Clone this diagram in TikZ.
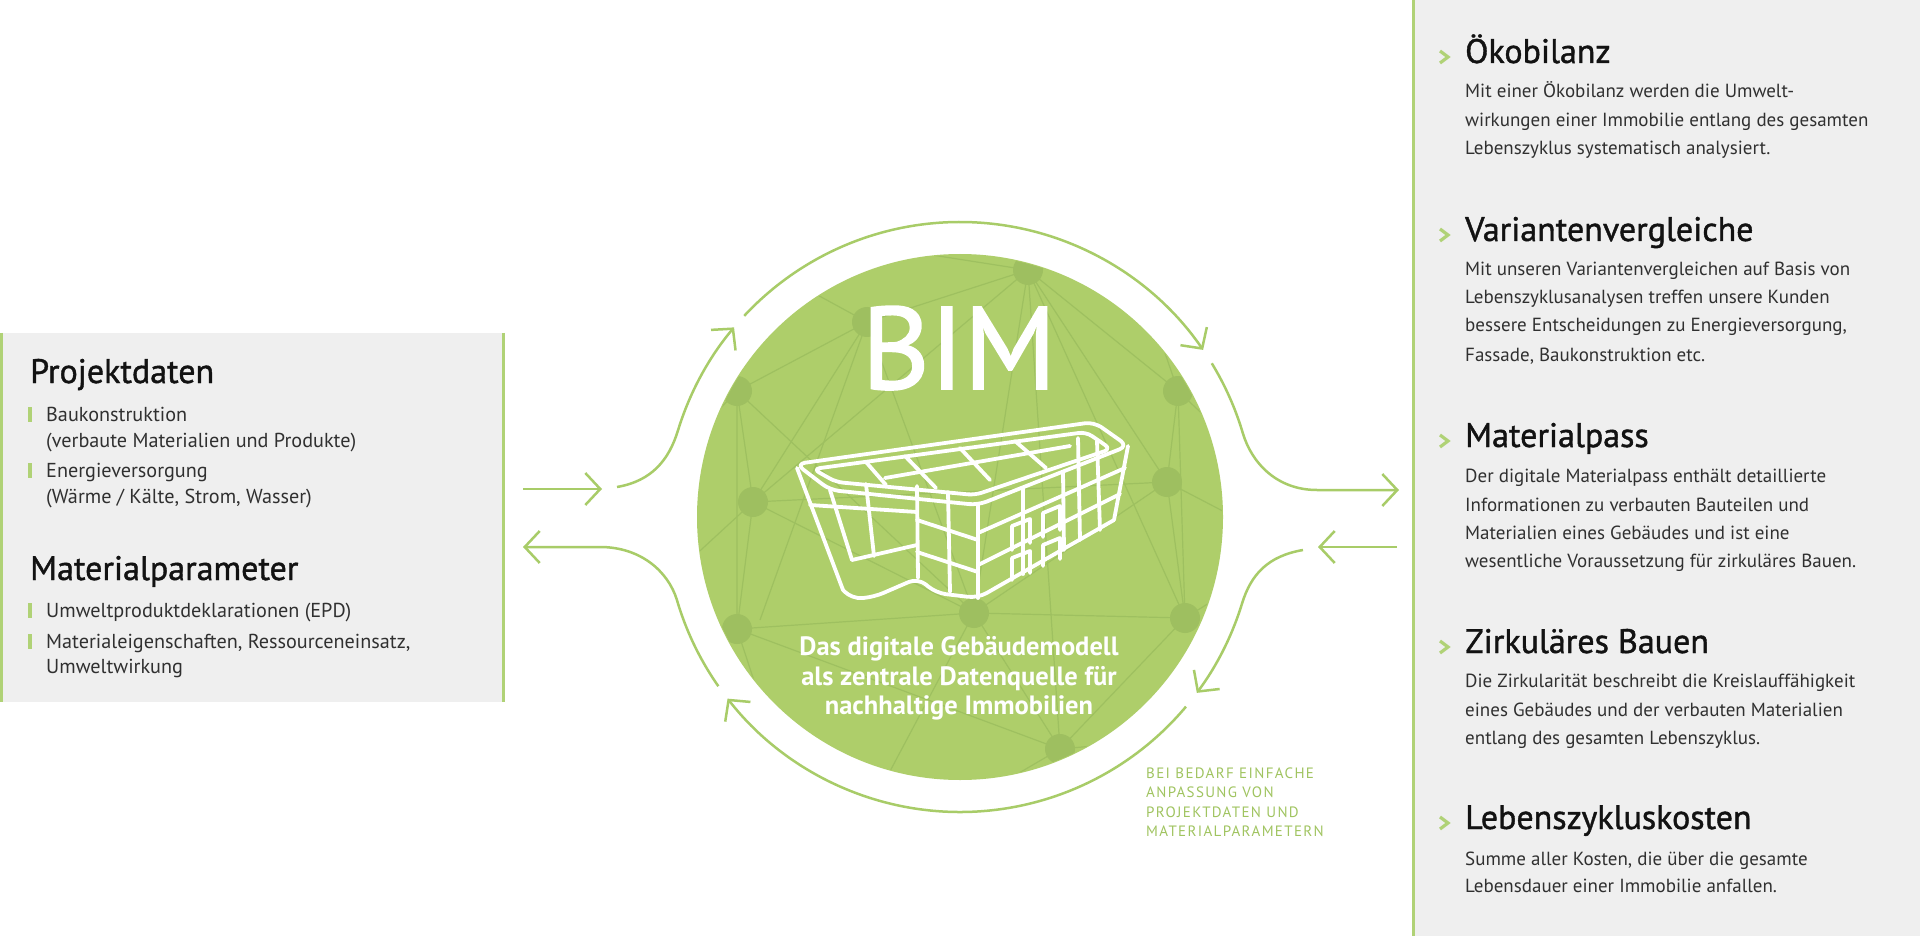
\documentclass[tikz,border=0pt]{standalone}
\usepackage{fontspec}
\setmainfont{PT Sans}
\newfontfamily\headfont[FakeBold=1.2]{PT Sans}
\newfontfamily\bimfont[FakeBold=1.5]{PT Sans}
\usetikzlibrary{arrows.meta,calc}
\definecolor{bimgreen}{RGB}{174,206,106}
\definecolor{linegreen}{RGB}{168,204,104}
\definecolor{netgreen}{RGB}{158,192,96}
\definecolor{dotgreen}{RGB}{158,191,96}
\definecolor{panelgrey}{RGB}{239,239,239}
\definecolor{bordergreen}{RGB}{176,210,118}
\definecolor{headtxt}{RGB}{18,18,18}
\definecolor{bodytxt}{RGB}{48,48,48}
\definecolor{labgreen}{RGB}{160,196,96}
\begin{document}
\begin{tikzpicture}[x=1pt,y=-1pt,
  head/.style={font=\headfont\fontsize{34}{38}\selectfont, text=headtxt, anchor=base west, inner sep=0pt},
  body/.style={font=\fontsize{19}{26}\selectfont, text=bodytxt, anchor=base west, inner sep=0pt},
  lbody/.style={font=\fontsize{20.2}{26}\selectfont, text=bodytxt, anchor=base west, inner sep=0pt},
  sub/.style={font=\bfseries\fontsize{26.5}{30}\selectfont, text=white, anchor=base, inner sep=0pt},
  lab/.style={font=\addfontfeatures{LetterSpace=9}\fontsize{15}{19}\selectfont, text=labgreen, anchor=base west, inner sep=0pt},
  arr/.style={draw=linegreen, line width=2.5pt, -{Straight Barb[length=15pt,width=32pt]}},
  chev/.style={draw=bordergreen, line width=3.2pt},
  net/.style={draw=netgreen, line width=1.2pt},
  bld/.style={draw=white, line width=3.8pt, line join=round, line cap=round, rounded corners=5pt}
]
\useasboundingbox (0,0) rectangle (1920,941);
\fill[white] (0,0) rectangle (1920,941);

% ---------- left panel ----------
\fill[panelgrey] (0,333) rectangle (505,702);
\draw[bordergreen, line width=3pt] (1.5,333) -- (1.5,702);
\draw[bordergreen, line width=3pt] (503.5,333) -- (503.5,702);

\node[head] (pd) at (30,383) {Projektdaten};
\fill[bordergreen] (28,407) rectangle (32,422);
\node[lbody] (pd1) at (46,421) {Baukonstruktion};
\node[lbody] (pd1b) at (46,447) {(verbaute Materialien und Produkte)};
\fill[bordergreen] (28,463) rectangle (32,478);
\node[lbody] (pd2) at (46,477) {Energieversorgung};
\node[lbody] (pd2b) at (46,503) {(Wärme / Kälte, Strom, Wasser)};

\node[head] (mp) at (30,580) {Materialparameter};
\fill[bordergreen] (28,603) rectangle (32,618);
\node[lbody] (mp1) at (46,617) {Umweltproduktdeklarationen (EPD)};
\fill[bordergreen] (28,634) rectangle (32,649);
\node[lbody] (mp2) at (46,648) {Materialeigenschaften, Ressourceneinsatz,};
\node[lbody] (mp2b) at (46,673) {Umweltwirkung};

% ---------- right panel ----------
\fill[panelgrey] (1412,0) rectangle (1920,936);
\draw[bordergreen, line width=3pt] (1413.5,0) -- (1413.5,936);

\draw[chev] (1440,51) -- (1448,57) -- (1440,63);
\node[head] (h1) at (1465,63) {Ökobilanz};
\node[body] (h1a) at (1465,98) {Mit einer Ökobilanz werden die Umwelt-};
\node[body] (h1b) at (1465,127) {wirkungen einer Immobilie entlang des gesamten};
\node[body] (h1c) at (1465,155) {Lebenszyklus systematisch analysiert.};

\draw[chev] (1440,229) -- (1448,235) -- (1440,241);
\node[head] (h2) at (1465,241) {Variantenvergleiche};
\node[body] (h2a) at (1465,276) {Mit unseren Variantenvergleichen auf Basis von};
\node[body] (h2b) at (1465,304) {Lebenszyklusanalysen treffen unsere Kunden};
\node[body] (h2c) at (1465,332) {bessere Entscheidungen zu Energieversorgung,};
\node[body] (h2d) at (1465,361) {Fassade, Baukonstruktion etc.};

\draw[chev] (1440,435) -- (1448,441) -- (1440,447);
\node[head] (h3) at (1465,447) {Materialpass};
\node[body] (h3a) at (1465,482) {Der digitale Materialpass enthält detaillierte};
\node[body] (h3b) at (1465,511) {Informationen zu verbauten Bauteilen und};
\node[body] (h3c) at (1465,539) {Materialien eines Gebäudes und ist eine};
\node[body] (h3d) at (1465,567) {wesentliche Voraussetzung für zirkuläres Bauen.};

\draw[chev] (1440,641) -- (1448,647) -- (1440,653);
\node[head] (h4) at (1465,653) {Zirkuläres Bauen};
\node[body] (h4a) at (1465,687) {Die Zirkularität beschreibt die Kreislauffähigkeit};
\node[body] (h4b) at (1465,716) {eines Gebäudes und der verbauten Materialien};
\node[body] (h4c) at (1465,744) {entlang des gesamten Lebenszyklus.};

\draw[chev] (1440,817) -- (1448,823) -- (1440,829);
\node[head] (h5) at (1465,829) {Lebenszykluskosten};
\node[body] (h5a) at (1465,865) {Summe aller Kosten, die über die gesamte};
\node[body] (h5b) at (1465,892) {Lebensdauer einer Immobilie anfallen.};

% ---------- central circle ----------
\coordinate (c) at (960,517);
\fill[bimgreen] (c) circle[radius=263];
\begin{scope}
\clip (c) circle[radius=262];
\coordinate (nA) at (1028,270);
\coordinate (nB) at (867,322);
\coordinate (nC) at (737,391);
\coordinate (nD) at (1178,391);
\coordinate (nE) at (753,502);
\coordinate (nF) at (1167,482);
\coordinate (nG) at (974,613);
\coordinate (nH) at (737,629);
\coordinate (nI) at (1185,618);
\coordinate (nJ) at (1060,749);
\draw[net] (nA) -- (nB) -- (nC) -- (nE) -- (nH) -- (nJ) -- (nI) -- (nD) -- (nA);
\draw[net] (nA) -- (nF) (nA) -- (nG) (nA) -- (nE) (nA) -- (nJ) (nA) -- (nI);
\draw[net] (nB) -- (nE) (nB) -- (nG) (nC) -- (nH) (nC) -- (nG);
\draw[net] (nD) -- (nF) -- (nI) (nF) -- (nG) (nE) -- (nG) -- (nH) (nG) -- (nJ) (nG) -- (nI) (nE) -- (nF);
\draw[net] (nA) -- (900,250) (nA) -- (1110,260) (nB) -- (790,280) (nC) -- (690,440)
  (nD) -- (1230,440) (nE) -- (690,560) (nH) -- (790,790) (nG) -- (880,790)
  (nJ) -- (990,790) (nJ) -- (1160,740) (nI) -- (1230,590) (nC) -- (700,300)
  (nH) -- (690,700) (nF) -- (1240,520) (nB) -- (760,620) (nD) -- (1140,280);
\foreach \n in {nA,nB,nC,nD,nE,nF,nG,nH,nI,nJ} \fill[dotgreen] (\n) circle[radius=15];
\end{scope}

\node[font=\bimfont\fontsize{117}{117}\selectfont, text=white, anchor=base, inner sep=0pt] (bim) at (959,389) {BIM};

% ---------- building ----------
\begin{scope}
% roof outer and inner rim
\draw[bld, rounded corners=9pt] (796,464) -- (1094,422) -- (1128,446) -- (978,505) -- (830,490) -- cycle;
\draw[bld, rounded corners=7pt] (813,469) -- (1086,432) -- (1111,449) -- (975,495) -- (836,482) -- cycle;
% roof grid
\draw[bld] (866,462) -- (886,485);
\draw[bld] (905,456) -- (936,488);
\draw[bld] (960,448) -- (990,480);
\draw[bld] (1015,441) -- (1046,468);
\draw[bld] (885,478) -- (1070,446);
% verticals
\draw[bld] (797,468) -- (843,590);
\draw[bld] (830,490) -- (852,560);
\draw[bld] (866,484) -- (874,556);
\draw[bld] (917,486) -- (918,578);
\draw[bld] (948,492) -- (950,592);
\draw[bld] (978,505) -- (978,598);
\draw[bld] (1023,488) -- (1023,574);
\draw[bld] (1063,472) -- (1064,550);
\draw[bld] (1078,438) -- (1080,540);
\draw[bld] (1097,441) -- (1100,530);
\draw[bld] (1128,446) -- (1114,520);
% bottom outline
\draw[bld, rounded corners=10pt] (843,590) -- (852,599) -- (874,597) -- (918,578) -- (936,593) -- (978,598) -- (1114,520);
\draw[bld] (852,560) -- (917,545);
% bands
\draw[bld] (978,533) -- (1125,468);
\draw[bld] (978,565) -- (1120,494);
\draw[bld] (810,505) -- (917,512);
\draw[bld] (917,520) -- (978,540);
\draw[bld] (917,552) -- (978,572);
% windows
\draw[bld, rounded corners=0pt] (1012,550) -- (1012,526) -- (1030,519) -- (1030,543);
\draw[bld, rounded corners=0pt] (1043,537) -- (1043,513) -- (1060,506) -- (1060,530);
\draw[bld, rounded corners=0pt] (1012,580) -- (1012,558) -- (1030,551) -- (1030,573);
\draw[bld, rounded corners=0pt] (1043,566) -- (1043,545) -- (1060,538) -- (1060,559);
\end{scope}

\node[sub] (s1) at (959,655) {Das digitale Gebäudemodell};
\node[sub] (s2) at (959,685) {als zentrale Datenquelle für};
\node[sub] (s3) at (959,714) {nachhaltige Immobilien};

% ---------- cycle arrows ----------
\draw[arr] ($(c)+(-137:295)$) arc[start angle=-137, end angle=-34.5, radius=295];
\draw[arr] ($(c)+(-31.4:295)$) arc[start angle=-31.4, end angle=-16.5, radius=295]
   .. controls +(9,30) and +(-40,0) .. (1317,490) -- (1399,490);
\draw[arr] (1397,547) -- (1318,547);
\draw[arr] (1303,550) .. controls +(-35,6) and +(9,-29) .. ($(c)+(17:295)$)
   arc[start angle=17, end angle=36.6, radius=295];
\draw[arr] ($(c)+(40:295)$) arc[start angle=40, end angle=142, radius=295];
\draw[arr] ($(c)+(145:295)$) arc[start angle=145, end angle=163.7, radius=295]
   .. controls +(-9,-29) and +(40,0) .. (600,547) -- (523,547);
\draw[arr] (523,489) -- (602,489);
\draw[arr] (617,487) .. controls +(35,-6) and +(-9,29) .. ($(c)+(197:295)$)
   arc[start angle=197, end angle=220, radius=295];

% ---------- note ----------
\node[lab] (n1) at (1146,778) {BEI BEDARF EINFACHE};
\node[lab] (n2) at (1146,797) {ANPASSUNG VON};
\node[lab] (n3) at (1146,817) {PROJEKTDATEN UND};
\node[lab] (n4) at (1146,836) {MATERIALPARAMETERN};
\end{tikzpicture}
\end{document}
